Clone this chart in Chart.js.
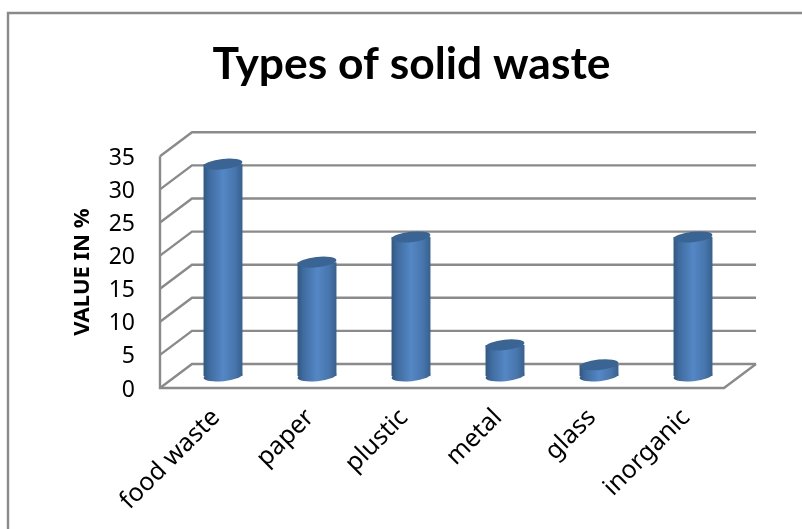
<!DOCTYPE html>
<html><head><meta charset="utf-8">
<style>html,body{margin:0;padding:0;background:#fff}canvas{display:block}</style>
<script src="https://cdn.jsdelivr.net/npm/chart.js@4/dist/chart.umd.min.js"></script>
</head><body><canvas id="c" width="802" height="529"></canvas>
<script>
const categories = ["food waste","paper","plustic","metal","glass","inorganic"];
const wasteValues = [32,17.2,21,4.7,1.7,21];
const titleText = "Types of solid waste";
const yAxisTitle = "VALUE IN %";
const GRID="#8a8a8a", DX=32, DY=-24, BX=16, BY=-12;
const BODY_FONT="'Noto Sans'";

const frame3d = {
  id:'frame3d',
  afterLayout(chart){ chart.titleBlock.left+=49.5; chart.titleBlock.right+=49.5; },
  beforeDatasetsDraw(chart){
    const {ctx,chartArea:a,scales:{y}}=chart;
    ctx.save();
    ctx.strokeStyle=GRID; ctx.lineWidth=2.4;
    ctx.beginPath(); ctx.moveTo(8,529); ctx.lineTo(8,13); ctx.lineTo(802,13); ctx.stroke();
    y.ticks.forEach(t=>{
      const p=y.getPixelForValue(t.value);
      ctx.beginPath(); ctx.moveTo(a.left,p); ctx.lineTo(a.left+DX,p+DY); ctx.lineTo(a.right+DX,p+DY); ctx.stroke();
    });
    ctx.beginPath();
    ctx.moveTo(a.left,a.top); ctx.lineTo(a.left,a.bottom); ctx.lineTo(a.right,a.bottom); ctx.lineTo(a.right+DX,a.bottom+DY);
    ctx.stroke();
    ctx.restore();
  },
  beforeDatasetDraw(chart){ chart.ctx.save(); chart.ctx.translate(BX,BY); },
  afterDatasetDraw(chart,args){
    const ctx=chart.ctx;
    args.meta.data.forEach(b=>{
      const rx=b.width/2, ry=5.2, rot=-6*Math.PI/180;
      ctx.fillStyle=b.options.backgroundColor;
      ctx.beginPath(); ctx.ellipse(b.x,b.base,rx,ry,rot,0,Math.PI*2); ctx.fill();
      ctx.fillStyle="#3a6493";
      ctx.beginPath(); ctx.ellipse(b.x,b.y,rx,ry,rot,0,Math.PI*2); ctx.fill();
    });
    ctx.restore();
  }
};

new Chart(document.getElementById('c'),{
  type:'bar',
  plugins:[frame3d],
  data:{labels:categories,datasets:[{
    data:wasteValues,
    barPercentage:0.414,categoryPercentage:1,clip:false,borderWidth:0,
    backgroundColor(c){
      const ch=c.chart, x=ch.scales.x.getPixelForValue(c.dataIndex), w=19.5;
      if(!Number.isFinite(x)) return "#4f81bd";
      const g=ch.ctx.createLinearGradient(x-w,0,x+w,0);
      g.addColorStop(0,"#305780");g.addColorStop(0.15,"#3f6b9f");g.addColorStop(0.5,"#5487c6");
      g.addColorStop(0.8,"#4876ad");g.addColorStop(1,"#36608f");
      return g;
    }
  }]},
  options:{
    responsive:false,animation:false,
    layout:{padding:{left:0,top:0,bottom:0,right:78}},
    plugins:{
      legend:{display:false},tooltip:{enabled:false},
      title:{display:true,text:titleText,color:"#000",
        font:{family:"Lato",size:44.4,weight:"bold"},padding:{top:38,bottom:65}}
    },
    scales:{
      x:{
        afterFit(s){s.height=141;},
        grid:{display:false},border:{display:false},
        ticks:{color:"#000",font:{family:BODY_FONT,size:25},minRotation:45,maxRotation:45,padding:7,labelOffset:9,autoSkip:false}
      },
      y:{
        afterFit(s){s.width=160;},
        min:0,max:35,
        grid:{display:false,drawTicks:false},border:{display:false},
        ticks:{stepSize:5,color:"#000",font:{family:BODY_FONT,size:23},padding:25,labelOffset:2},
        title:{display:true,text:yAxisTitle,color:"#000",font:{family:BODY_FONT,size:22,weight:"bold"},padding:{top:70,bottom:0}}
      }
    }
  }
});
</script></body></html>
